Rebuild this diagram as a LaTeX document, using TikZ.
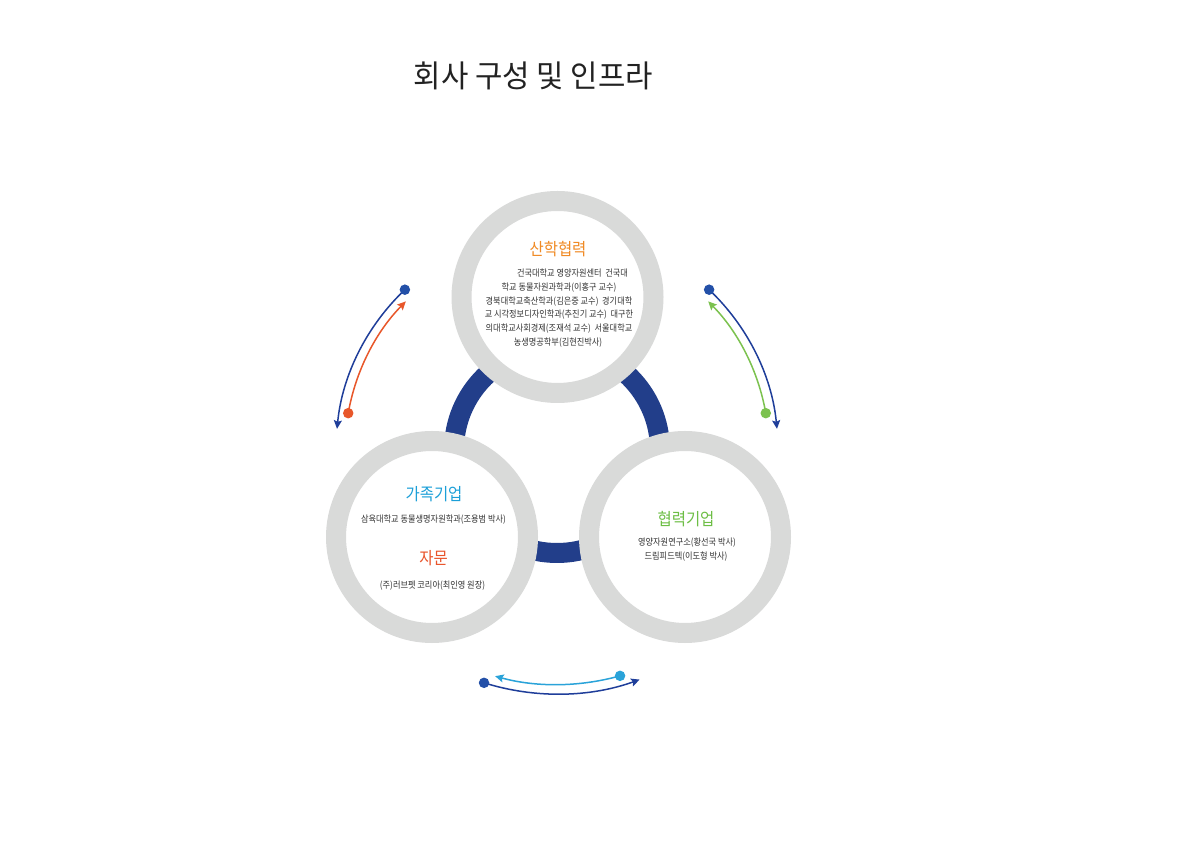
\documentclass[tikz,border=0pt]{standalone}
\usepackage{fontspec}
\usetikzlibrary{arrows.meta}
\newfontfamily\krfont[FakeStretch=0.91]{Noto Sans CJK KR}
\newfontfamily\krbody[FakeStretch=0.89]{Noto Sans CJK KR}
\newfontfamily\krtitle[FakeStretch=0.96]{Noto Sans CJK KR}
\definecolor{ringgray}{HTML}{D9DAD9}
\definecolor{ringblue}{HTML}{223E8A}
\definecolor{arrowblue}{HTML}{1F3E9A}
\definecolor{dotblue}{HTML}{2350A8}
\definecolor{arroworange}{HTML}{E8572A}
\definecolor{arrowgreen}{HTML}{7CC24F}
\definecolor{arrowcyan}{HTML}{2AA3D9}
\definecolor{headorange}{HTML}{F08A24}
\definecolor{headcyan}{HTML}{1B9FD8}
\definecolor{headred}{HTML}{E9542B}
\definecolor{headgreen}{HTML}{6DBE45}
\definecolor{bodygray}{HTML}{333333}
\definecolor{titlegray}{HTML}{222222}
\begin{document}
\begin{tikzpicture}[x=1pt,y=1pt,
  bigring/.style={circle, minimum size=192pt, inner sep=0pt, outer sep=0pt, draw=ringgray, line width=20pt, fill=white},
  heading/.style={font=\krfont\fontsize{17}{20}\selectfont, inner sep=0pt},
  body/.style={font=\krbody\fontsize{9.2}{11}\selectfont, text=bodygray, inner sep=0pt},
  arcline/.style={line width=1.5pt},
  arrowend/.style={-{Stealth[length=8.5pt,width=8pt,inset=1.5pt]}},
  dotnode/.style={circle, inner sep=0pt, minimum size=10.5pt}]
\useasboundingbox (0,0) rectangle (1200,849);
\fill[white] (0,0) rectangle (1200,849);

% title
\node[font=\krtitle\fontsize{31}{36}\selectfont, text=titlegray, inner sep=0pt] (title) at (533.5,773) {회사 구성 및 인프라};

% blue connecting ring
\coordinate (rc) at (557,399);
\draw[ringblue, line width=20pt] (rc) circle[radius=103];

% three circles
\node[bigring] (top) at (557.5,552) {};
\node[bigring] (left) at (432,312) {};
\node[bigring] (right) at (685,312) {};

% top circle text
\node[heading, text=headorange] (h1) at (558,599.5) {산학협력};
\node[body] (t1) at (572.5,576) {건국대학교 영양자원센터\ \ 건국대};
\node[body] (t2) at (559,561.5) {학교 동물자원과학과(이홍구 교수)};
\node[body] (t3) at (559,547) {경북대학교축산학과(김은중 교수)\ \ 경기대학};
\node[body] (t4) at (559,534) {교 시각정보디자인학과(추진기 교수)\ \ 대구한};
\node[body] (t5) at (559,520.5) {의대학교사회경제(조재석 교수)\ \ 서울대학교};
\node[body] (t6) at (558,506.5) {농생명공학부(김현진박사)};

% left circle text
\node[heading, text=headcyan] (h2) at (434,355) {가족기업};
\node[body] (l1) at (433.5,329) {삼육대학교 동물생명자원학과(조용범 박사)};
\node[heading, text=headred] (h3) at (433.5,291) {자문};
\node[body] (l2) at (432.5,263.5) {(주)러브펫 코리아(최인영 원장)};

% right circle text
\node[heading, text=headgreen] (h4) at (686,329.5) {협력기업};
\node[body] (r1) at (687,306) {영양자원연구소(황선국 박사)};
\node[body] (r2) at (686,292) {드림피드텍(이도형 박사)};

% arc arrows
\coordinate (lbS) at ([shift={(133.5:221)}]rc);
\coordinate (loS) at ([shift={(170:212)}]rc);
\coordinate (rbS) at ([shift={(46.5:221)}]rc);
\coordinate (rgS) at ([shift={(10:212)}]rc);
\coordinate (bbS) at ([shift={(252.6:244)}]rc);
\coordinate (bcS) at ([shift={(285.6:234.5)}]rc);

\draw[arcline, arrowend, arrowblue] (lbS) arc[start angle=133.5, end angle=174.5, radius=221];
\draw[arcline, arrowend, arroworange] (loS) arc[start angle=170, end angle=135.5, radius=212];
\draw[arcline, arrowend, arrowblue] (rbS) arc[start angle=46.5, end angle=5.5, radius=221];
\draw[arcline, arrowend, arrowgreen] (rgS) arc[start angle=10, end angle=44.5, radius=212];
\draw[arcline, arrowend, arrowblue] (bbS) arc[start angle=252.6, end angle=289.8, radius=244];
\draw[arcline, arrowend, arrowcyan] (bcS) arc[start angle=285.6, end angle=254.7, radius=234.5];

\node[dotnode, fill=dotblue] (lbdot) at (lbS) {};
\node[dotnode, fill=arroworange] (lodot) at (loS) {};
\node[dotnode, fill=dotblue] (rbdot) at (rbS) {};
\node[dotnode, fill=arrowgreen] (rgdot) at (rgS) {};
\node[dotnode, fill=dotblue] (bbdot) at (bbS) {};
\node[dotnode, fill=arrowcyan] (bcdot) at (bcS) {};
\end{tikzpicture}
\end{document}
